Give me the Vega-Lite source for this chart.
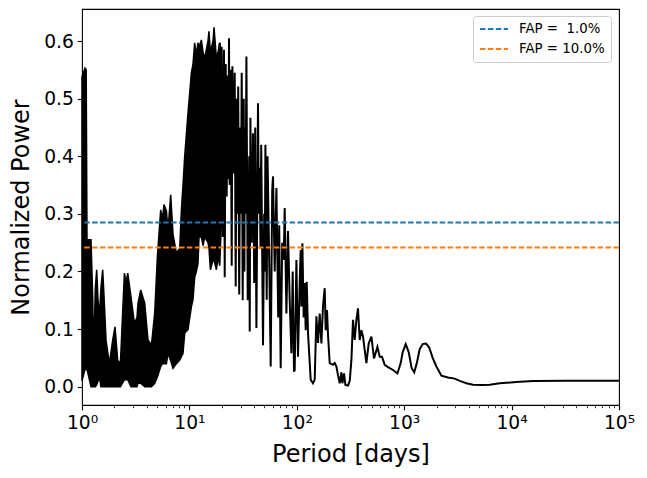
{
  "$schema": "https://vega.github.io/schema/vega-lite/v6.json",
  "width": 537,
  "height": 396,
  "autosize": "none",
  "padding": {"left": 82, "top": 9, "right": 28, "bottom": 73},
  "background": "white",
  "config": {
    "font": "DejaVu Sans",
    "view": {"stroke": "black", "strokeWidth": 1.1},
    "axis": {"grid": false, "domain": false, "tickColor": "black", "labelColor": "black", "titleColor": "black", "labelFont": "DejaVu Sans", "titleFont": "DejaVu Sans", "titleFontWeight": "normal"}
  },
  "datasets": {
    "band": [
      {"p": 1.0, "hi": 0.538, "lo": 0.01},
      {"p": 1.066, "hi": 0.553, "lo": 0.03},
      {"p": 1.094, "hi": 0.55, "lo": 0.03},
      {"p": 1.113, "hi": 0.255, "lo": 0.03},
      {"p": 1.213, "hi": 0.255, "lo": 0.0},
      {"p": 1.258, "hi": 0.156, "lo": 0.0},
      {"p": 1.285, "hi": 0.052, "lo": 0.0},
      {"p": 1.33, "hi": 0.17, "lo": 0.0},
      {"p": 1.37, "hi": 0.203, "lo": 0.003},
      {"p": 1.41, "hi": 0.15, "lo": 0.01},
      {"p": 1.452, "hi": 0.122, "lo": 0.017},
      {"p": 1.5, "hi": 0.17, "lo": 0.0},
      {"p": 1.558, "hi": 0.203, "lo": 0.0},
      {"p": 1.61, "hi": 0.15, "lo": 0.0},
      {"p": 1.673, "hi": 0.081, "lo": 0.0},
      {"p": 1.799, "hi": 0.04, "lo": 0.0},
      {"p": 1.931, "hi": 0.081, "lo": 0.0},
      {"p": 2.029, "hi": 0.104, "lo": 0.0},
      {"p": 2.149, "hi": 0.046, "lo": 0.0},
      {"p": 2.278, "hi": 0.04, "lo": 0.0},
      {"p": 2.38, "hi": 0.12, "lo": 0.006},
      {"p": 2.482, "hi": 0.197, "lo": 0.012},
      {"p": 2.57, "hi": 0.18, "lo": 0.012},
      {"p": 2.665, "hi": 0.197, "lo": 0.012},
      {"p": 2.859, "hi": 0.156, "lo": 0.0},
      {"p": 3.075, "hi": 0.11, "lo": 0.0},
      {"p": 3.252, "hi": 0.12, "lo": 0.0},
      {"p": 3.322, "hi": 0.145, "lo": 0.006},
      {"p": 3.521, "hi": 0.168, "lo": 0.006},
      {"p": 3.835, "hi": 0.145, "lo": 0.0},
      {"p": 4.117, "hi": 0.081, "lo": 0.0},
      {"p": 4.429, "hi": 0.072, "lo": 0.0},
      {"p": 4.753, "hi": 0.128, "lo": 0.006},
      {"p": 5.035, "hi": 0.226, "lo": 0.017},
      {"p": 5.405, "hi": 0.307, "lo": 0.035},
      {"p": 5.6, "hi": 0.29, "lo": 0.04},
      {"p": 5.8, "hi": 0.316, "lo": 0.04},
      {"p": 6.108, "hi": 0.305, "lo": 0.04},
      {"p": 6.321, "hi": 0.272, "lo": 0.058},
      {"p": 6.698, "hi": 0.333, "lo": 0.045},
      {"p": 7.036, "hi": 0.265, "lo": 0.032},
      {"p": 7.568, "hi": 0.232, "lo": 0.04},
      {"p": 8.124, "hi": 0.24, "lo": 0.046},
      {"p": 8.425, "hi": 0.307, "lo": 0.052},
      {"p": 8.719, "hi": 0.35, "lo": 0.058},
      {"p": 9.042, "hi": 0.4, "lo": 0.093},
      {"p": 9.705, "hi": 0.475, "lo": 0.099},
      {"p": 10.44, "hi": 0.545, "lo": 0.139},
      {"p": 10.8, "hi": 0.56, "lo": 0.151},
      {"p": 11.2, "hi": 0.597, "lo": 0.19},
      {"p": 11.6, "hi": 0.575, "lo": 0.2},
      {"p": 12.02, "hi": 0.597, "lo": 0.214},
      {"p": 12.29, "hi": 0.59, "lo": 0.26},
      {"p": 12.93, "hi": 0.602, "lo": 0.26},
      {"p": 13.4, "hi": 0.58, "lo": 0.245},
      {"p": 13.88, "hi": 0.57, "lo": 0.26},
      {"p": 14.9, "hi": 0.6, "lo": 0.25},
      {"p": 15.22, "hi": 0.617, "lo": 0.24},
      {"p": 15.69, "hi": 0.58, "lo": 0.203},
      {"p": 16.59, "hi": 0.6, "lo": 0.22},
      {"p": 16.95, "hi": 0.624, "lo": 0.22},
      {"p": 17.84, "hi": 0.57, "lo": 0.203},
      {"p": 18.47, "hi": 0.58, "lo": 0.225},
      {"p": 19.15, "hi": 0.597, "lo": 0.21},
      {"p": 19.8, "hi": 0.58, "lo": 0.28},
      {"p": 20.4, "hi": 0.5, "lo": 0.38}
    ],
    "curve": [
      {"p": 18.34, "v": 0.58}, {"p": 18.74, "v": 0.22}, {"p": 19.15, "v": 0.597}, {"p": 19.56, "v": 0.3},
      {"p": 19.98, "v": 0.59}, {"p": 20.42, "v": 0.26}, {"p": 21.0, "v": 0.585}, {"p": 21.32, "v": 0.19},
      {"p": 21.78, "v": 0.56}, {"p": 22.25, "v": 0.33}, {"p": 22.73, "v": 0.54}, {"p": 23.05, "v": 0.36},
      {"p": 23.37, "v": 0.605}, {"p": 23.72, "v": 0.35}, {"p": 24.24, "v": 0.55}, {"p": 24.77, "v": 0.21},
      {"p": 25.15, "v": 0.556}, {"p": 25.85, "v": 0.37}, {"p": 26.42, "v": 0.545}, {"p": 26.98, "v": 0.174},
      {"p": 27.56, "v": 0.5}, {"p": 28.0, "v": 0.3}, {"p": 28.47, "v": 0.521}, {"p": 29.09, "v": 0.16},
      {"p": 29.72, "v": 0.45}, {"p": 30.2, "v": 0.3}, {"p": 30.69, "v": 0.545}, {"p": 31.36, "v": 0.15},
      {"p": 32.04, "v": 0.5}, {"p": 32.5, "v": 0.2}, {"p": 32.9, "v": 0.45}, {"p": 33.3, "v": 0.3},
      {"p": 33.95, "v": 0.573}, {"p": 34.91, "v": 0.15},
      {"p": 36.05, "v": 0.4}, {"p": 36.44, "v": 0.096}, {"p": 36.98, "v": 0.467}, {"p": 38.03, "v": 0.25},
      {"p": 39.1, "v": 0.44}, {"p": 40.12, "v": 0.18}, {"p": 41.0, "v": 0.45}, {"p": 42.06, "v": 0.102},
      {"p": 43.53, "v": 0.492}, {"p": 44.3, "v": 0.3}, {"p": 45.15, "v": 0.38}, {"p": 45.9, "v": 0.24}, {"p": 46.63, "v": 0.42}, {"p": 48.46, "v": 0.072},
      {"p": 49.7, "v": 0.3}, {"p": 50.3, "v": 0.2},
      {"p": 51.02, "v": 0.42}, {"p": 52.46, "v": 0.151}, {"p": 53.37, "v": 0.4}, {"p": 55.34, "v": 0.22},
      {"p": 57.15, "v": 0.035}, {"p": 59.01, "v": 0.34}, {"p": 60.04, "v": 0.365}, {"p": 62.27, "v": 0.2},
      {"p": 64.59, "v": 0.345}, {"p": 67.12, "v": 0.12}, {"p": 68.58, "v": 0.28}, {"p": 70.8, "v": 0.032},
      {"p": 73.12, "v": 0.25}, {"p": 75.51, "v": 0.22}, {"p": 77.15, "v": 0.31}, {"p": 80.02, "v": 0.127},
      {"p": 82.81, "v": 0.27}, {"p": 85.88, "v": 0.15}, {"p": 89.07, "v": 0.058}, {"p": 91.58, "v": 0.2},
      {"p": 94.17, "v": 0.026}, {"p": 95.59, "v": 0.029}, {"p": 99.15, "v": 0.22}, {"p": 102.6, "v": 0.052},
      {"p": 106.4, "v": 0.18}, {"p": 108.7, "v": 0.237}, {"p": 110.4, "v": 0.139}, {"p": 112.7, "v": 0.249},
      {"p": 115.9, "v": 0.12}, {"p": 118.4, "v": 0.18}, {"p": 121.0, "v": 0.098}, {"p": 123.7, "v": 0.182},
      {"p": 127.2, "v": 0.093}, {"p": 134.7, "v": 0.012}, {"p": 141.5, "v": 0.006}, {"p": 146.8, "v": 0.012},
      {"p": 152.2, "v": 0.122}, {"p": 157.6, "v": 0.076}, {"p": 163.4, "v": 0.127}, {"p": 169.5, "v": 0.075},
      {"p": 175.4, "v": 0.14}, {"p": 181.9, "v": 0.171}, {"p": 185.8, "v": 0.098}, {"p": 191.1, "v": 0.133},
      {"p": 195.2, "v": 0.09}, {"p": 202.5, "v": 0.041}, {"p": 217.3, "v": 0.038}, {"p": 225.4, "v": 0.041},
      {"p": 233.8, "v": 0.035}, {"p": 241.9, "v": 0.02}, {"p": 250.9, "v": 0.006}, {"p": 260.2, "v": 0.025},
      {"p": 265.8, "v": 0.006}, {"p": 275.1, "v": 0.023}, {"p": 283.5, "v": 0.003}, {"p": 299.7, "v": 0.002},
      {"p": 310.9, "v": 0.01}, {"p": 322.4, "v": 0.046}, {"p": 333.7, "v": 0.116}, {"p": 346.0, "v": 0.081},
      {"p": 358.8, "v": 0.116}, {"p": 371.3, "v": 0.136}, {"p": 385.2, "v": 0.081}, {"p": 399.5, "v": 0.098},
      {"p": 413.4, "v": 0.087}, {"p": 444.6, "v": 0.041}, {"p": 467.2, "v": 0.075}, {"p": 495.0, "v": 0.087},
      {"p": 523.4, "v": 0.049}, {"p": 562.9, "v": 0.069}, {"p": 591.4, "v": 0.052}, {"p": 621.4, "v": 0.052},
      {"p": 658.4, "v": 0.038}, {"p": 706.7, "v": 0.034}, {"p": 786.6, "v": 0.029}, {"p": 864.6, "v": 0.023},
      {"p": 927.8, "v": 0.041}, {"p": 968.3, "v": 0.06}, {"p": 1033, "v": 0.074}, {"p": 1101, "v": 0.06},
      {"p": 1174, "v": 0.032}, {"p": 1239, "v": 0.025}, {"p": 1307, "v": 0.04}, {"p": 1394, "v": 0.065},
      {"p": 1487, "v": 0.074}, {"p": 1596, "v": 0.075}, {"p": 1709, "v": 0.068}, {"p": 1842, "v": 0.05},
      {"p": 1994, "v": 0.035}, {"p": 2220, "v": 0.019}, {"p": 2557, "v": 0.016}, {"p": 2953, "v": 0.014},
      {"p": 3288, "v": 0.01}, {"p": 3794, "v": 0.006}, {"p": 4371, "v": 0.0035}, {"p": 5234, "v": 0.003},
      {"p": 6254, "v": 0.0035}, {"p": 7748, "v": 0.006}, {"p": 11085, "v": 0.008}, {"p": 15824, "v": 0.01},
      {"p": 32370, "v": 0.0105}, {"p": 100000, "v": 0.0105}
    ],
    "fap": [
      {"label": "FAP =\u00a0\u00a01.0%", "fap": 0.2849},
      {"label": "FAP = 10.0%", "fap": 0.2415}
    ]
  },
  "layer": [
    {
      "data": {"name": "band"},
      "mark": {"type": "area", "color": "black", "opacity": 1, "stroke": "black", "strokeWidth": 1.5, "interpolate": "linear"},
      "encoding": {
        "x": {
          "field": "p", "type": "quantitative",
          "scale": {"type": "log", "domain": [1, 100000], "nice": false},
          "axis": {
            "orient": "bottom",
            "values": [1, 10, 100, 1000, 10000, 100000],
            "labelExpr": "'10' + ['⁰','¹','²','³','⁴','⁵'][round(log(datum.value)/LN10)]",
            "labelFlush": false, "labelOverlap": false,
            "tickSize": 4.7, "tickWidth": 1.1,
            "labelFontSize": 18.67, "labelPadding": 4,
            "title": "Period [days]", "titleFontSize": 24, "titlePadding": 10
          }
        },
        "y": {
          "field": "hi", "type": "quantitative",
          "scale": {"domain": [-0.0318, 0.6556], "nice": false, "zero": false},
          "axis": {
            "values": [0, 0.1, 0.2, 0.3, 0.4, 0.5, 0.6],
            "format": ".1f",
            "tickSize": 4.7, "tickWidth": 1.1,
            "labelFontSize": 18.67, "labelPadding": 4,
            "title": "Normalized Power", "titleFontSize": 24, "titlePadding": 10
          }
        },
        "y2": {"field": "lo"}
      }
    },
    {
      "data": {"name": "curve"},
      "mark": {"type": "line", "color": "black", "strokeWidth": 2, "interpolate": "linear"},
      "encoding": {
        "x": {
          "field": "p", "type": "quantitative",
          "axis": {
            "orient": "bottom",
            "values": [2,3,4,5,6,7,8,9,20,30,40,50,60,70,80,90,200,300,400,500,600,700,800,900,2000,3000,4000,5000,6000,7000,8000,9000,20000,30000,40000,50000,60000,70000,80000,90000],
            "labels": false, "tickSize": 2.7, "tickWidth": 0.8, "title": null
          }
        },
        "y": {"field": "v", "type": "quantitative"}
      }
    },
    {
      "data": {"name": "fap"},
      "mark": {"type": "rule", "strokeDash": [5.5, 2.4], "strokeWidth": 2},
      "encoding": {
        "y": {"field": "fap", "type": "quantitative"},
        "color": {
          "field": "label", "type": "nominal",
          "scale": {"domain": ["FAP =\u00a0\u00a01.0%", "FAP = 10.0%"], "range": ["#1f77b4", "#ff7f0e"]},
          "legend": {
            "title": null, "orient": "none", "legendX": 391, "legendY": 7,
            "symbolType": "stroke", "symbolStrokeWidth": 2, "symbolDash": [5.5, 2.4], "symbolSize": 784,
            "labelFontSize": 13.33, "labelFont": "DejaVu Sans", "labelColor": "black",
            "fillColor": "white", "strokeColor": "#cccccc", "padding": 6, "cornerRadius": 3,
            "rowPadding": 6, "clipHeight": 14, "labelOffset": 10
          }
        }
      }
    }
  ],
  "resolve": {"axis": {"x": "independent"}}
}
